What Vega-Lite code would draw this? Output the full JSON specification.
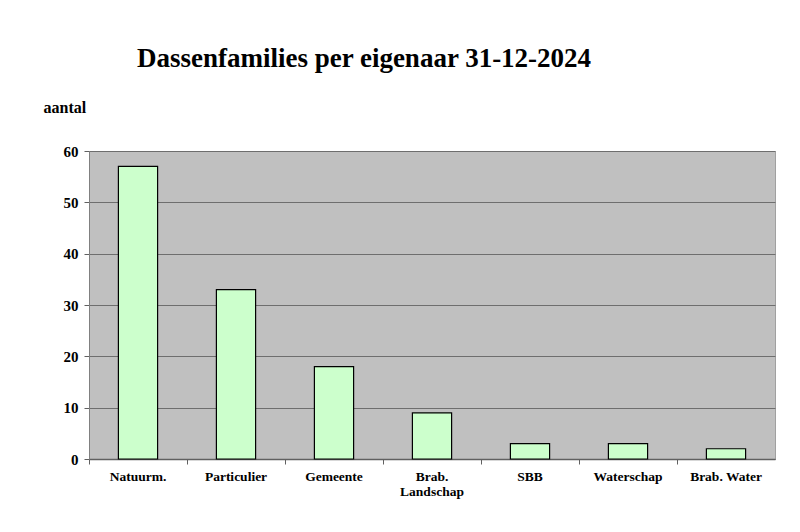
{
  "$schema": "https://vega.github.io/schema/vega-lite/v6.json",
  "autosize": "none",
  "padding": {"left": 89, "top": 151, "right": 25, "bottom": 73},
  "width": 686,
  "height": 308,
  "background": "white",
  "title": {
    "text": "Dassenfamilies per eigenaar 31-12-2024",
    "font": "Liberation Serif",
    "fontSize": 27,
    "fontWeight": "bold",
    "color": "black",
    "anchor": "middle",
    "frame": "group",
    "dx": -68,
    "dy": -22
  },
  "config": {
    "view": {"fill": "#C0C0C0", "stroke": "#A0A0A0", "strokeWidth": 1},
    "axis": {
      "labelFont": "Liberation Serif",
      "titleFont": "Liberation Serif",
      "labelFontWeight": "bold",
      "titleFontWeight": "bold",
      "labelColor": "black",
      "titleColor": "black"
    }
  },
  "data": {
    "values": [
      {"eigenaar": "Natuurm.", "aantal": 57},
      {"eigenaar": "Particulier", "aantal": 33},
      {"eigenaar": "Gemeente", "aantal": 18},
      {"eigenaar": "Brab. Landschap", "aantal": 9},
      {"eigenaar": "SBB", "aantal": 3},
      {"eigenaar": "Waterschap", "aantal": 3},
      {"eigenaar": "Brab. Water", "aantal": 2}
    ]
  },
  "layer": [
    {
      "mark": {"type": "bar", "fill": "#CCFFCC", "stroke": "black", "strokeWidth": 1.2, "width": {"band": 0.4}},
      "encoding": {
        "x": {
          "field": "eigenaar", "type": "nominal", "sort": null,
          "scale": {"paddingInner": 0, "paddingOuter": 0},
          "axis": {
            "title": null, "labelAngle": 0, "labelFontSize": 13.5, "labelPadding": 10,
            "labelFont": "Liberation Serif", "labelFontWeight": "bold",
            "ticks": false, "domain": true, "domainColor": "#606060", "domainWidth": 1.5,
            "labelExpr": "datum.label == 'Brab. Landschap' ? ['Brab.', 'Landschap'] : datum.label",
            "labelLineHeight": 15
          }
        },
        "y": {
          "field": "aantal", "type": "quantitative",
          "scale": {"domain": [0, 60], "nice": false},
          "axis": {
            "title": "aantal", "titleAngle": 0, "titleAlign": "left", "titleBaseline": "alphabetic",
            "titleX": -46, "titleY": -39, "titleFontSize": 16,
            "titleFont": "Liberation Serif", "titleFontWeight": "bold",
            "values": [0, 10, 20, 30, 40, 50, 60],
            "labelFontSize": 15, "labelPadding": 6,
            "labelFont": "Liberation Serif", "labelFontWeight": "bold",
            "tickColor": "#606060", "tickSize": 5,
            "domainColor": "#808080",
            "grid": true, "gridColor": "#6E6E6E", "gridWidth": 1.2
          }
        }
      }
    },
    {
      "mark": {"type": "bar", "opacity": 0, "width": {"band": 0.4}},
      "encoding": {
        "x": {
          "field": "eigenaar", "type": "nominal", "sort": null,
          "axis": {
            "title": null, "orient": "bottom", "labels": false, "domain": false,
            "ticks": true, "bandPosition": 0, "tickColor": "#606060", "tickSize": 5
          }
        },
        "y": {"field": "aantal", "type": "quantitative"}
      }
    }
  ],
  "resolve": {"axis": {"x": "independent", "y": "shared"}}
}
